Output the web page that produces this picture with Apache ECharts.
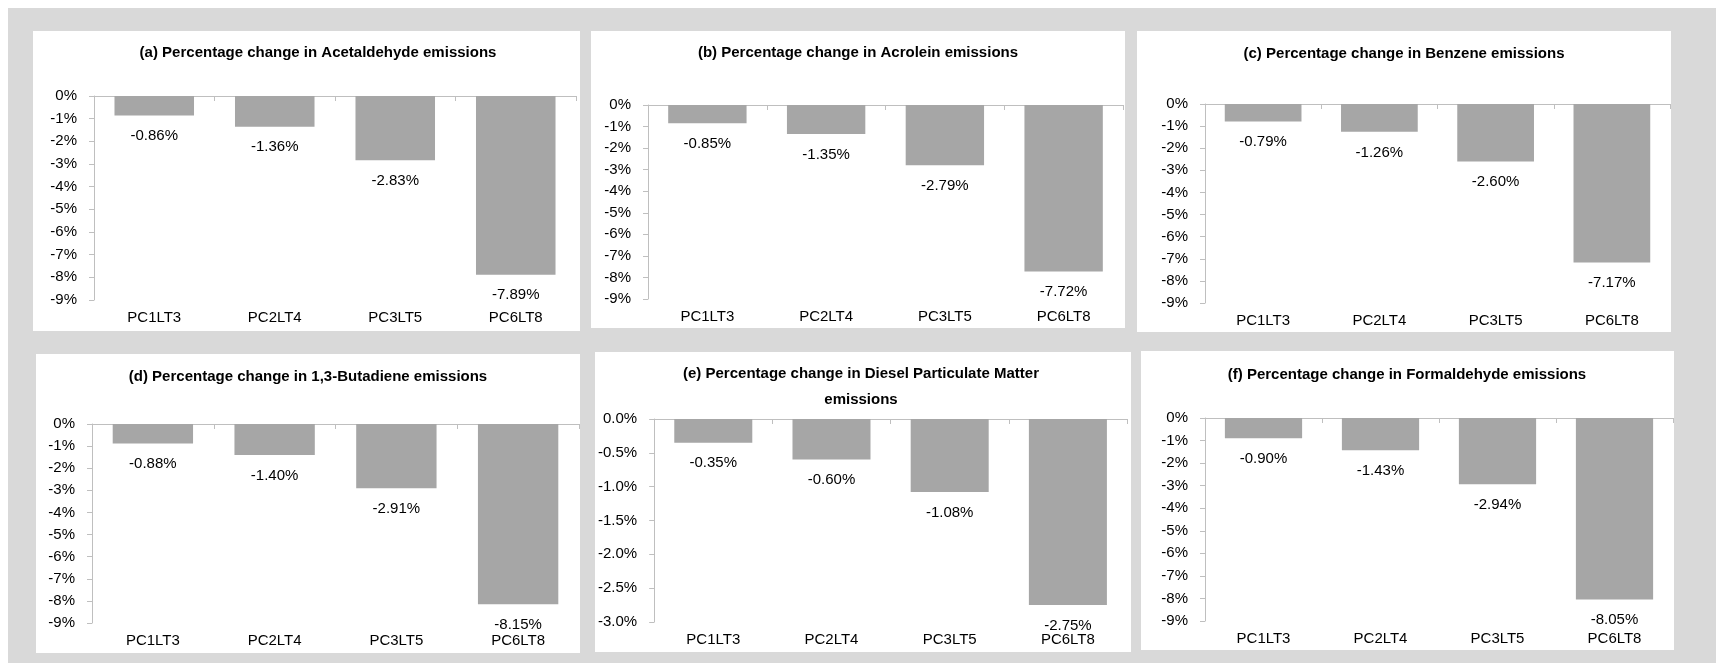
<!DOCTYPE html>
<html>
<head>
<meta charset="utf-8">
<script src="https://cdn.jsdelivr.net/npm/echarts@6/dist/echarts.min.js"></script>
<style>
  html, body { margin:0; padding:0; background:#ffffff; width:1716px; height:663px; overflow:hidden; }
  #bg { position:absolute; left:8px; top:8px; right:0; bottom:0; background:#d9d9d9; }
  .panel { position:absolute; background:#ffffff; }
</style>
</head>
<body>
<div id="bg"></div>
<script>
// ---- data ----
const categories = ['PC1LT3', 'PC2LT4', 'PC3LT5', 'PC6LT8'];
const acetaldehyde = [-0.86, -1.36, -2.83, -7.89];
const acrolein     = [-0.85, -1.35, -2.79, -7.72];
const benzene      = [-0.79, -1.26, -2.60, -7.17];
const butadiene    = [-0.88, -1.40, -2.91, -8.15];
const dieselPM     = [-0.35, -0.60, -1.08, -2.75];
const formaldehyde = [-0.90, -1.43, -2.94, -8.05];
const titles = [
  '(a) Percentage change in Acetaldehyde emissions',
  '(b) Percentage change in Acrolein emissions',
  '(c) Percentage change in Benzene emissions',
  '(d) Percentage change in 1,3-Butadiene emissions',
  '(e) Percentage change in Diesel Particulate Matter\nemissions',
  '(f) Percentage change in Formaldehyde emissions'
];
const seriesList = [acetaldehyde, acrolein, benzene, butadiene, dieselPM, formaldehyde];
const axisMins = [-9, -9, -9, -9, -3, -9];
const axisSteps = [1, 1, 1, 1, 0.5, 1];
const axisDecimals = [0, 0, 0, 0, 1, 0];

// ---- layout ----
const layout = [
  { x: 33,   y: 31,  w: 547, h: 300, grid: { left: 61, right: 4, top: 65, bottom: 31 }, titleTop: 11, titleX: 285, lh: 22 },
  { x: 591,  y: 31,  w: 534, h: 297, grid: { left: 57, right: 2, top: 74, bottom: 29 }, titleTop: 11, titleX: 267, lh: 22 },
  { x: 1137, y: 31,  w: 534, h: 301, grid: { left: 68, right: 1, top: 73, bottom: 29 }, titleTop: 12, titleX: 267, lh: 22 },
  { x: 36,   y: 354, w: 544, h: 299, grid: { left: 56, right: 1, top: 70, bottom: 30 }, titleTop: 12, titleX: 272, lh: 22 },
  { x: 595,  y: 352, w: 536, h: 300, grid: { left: 59, right: 4, top: 67, bottom: 30 }, titleTop: 9,  titleX: 266, lh: 26 },
  { x: 1141, y: 351, w: 533, h: 299, grid: { left: 64, right: 1, top: 67, bottom: 29 }, titleTop: 13, titleX: 266, lh: 22 }
];

const FONT = "'Liberation Sans', Arial, sans-serif";
const AXIS_COLOR = '#bfbfbf';
const BAR_COLOR = '#a6a6a6';

layout.forEach((L, i) => {
  const div = document.createElement('div');
  div.className = 'panel';
  div.style.left = L.x + 'px';
  div.style.top = L.y + 'px';
  div.style.width = L.w + 'px';
  div.style.height = L.h + 'px';
  document.body.appendChild(div);
  const chart = echarts.init(div, null, { renderer: 'canvas' });
  const dec = axisDecimals[i];
  chart.setOption({
    animation: false,
    textStyle: { fontFamily: FONT },
    title: {
      text: titles[i],
      left: L.titleX,
      top: L.titleTop,
      padding: 0,
      textAlign: 'center',
      textStyle: { fontFamily: FONT, fontSize: 15, fontWeight: 'bold', color: '#000', lineHeight: L.lh }
    },
    grid: L.grid,
    xAxis: [
      {
        type: 'category', data: categories, position: 'bottom',
        axisLine: { show: true, onZero: true, lineStyle: { color: AXIS_COLOR, width: 1 } },
        axisTick: { show: true, length: 5, lineStyle: { color: AXIS_COLOR } },
        axisLabel: { show: false }
      },
      {
        type: 'category', data: categories, position: 'bottom',
        axisLine: { show: false, onZero: false },
        axisTick: { show: false },
        axisLabel: { show: true, color: '#000', fontSize: 15, fontFamily: FONT, margin: 10 }
      }
    ],
    yAxis: {
      type: 'value', min: axisMins[i], max: 0, interval: axisSteps[i],
      axisLine: { show: true, lineStyle: { color: AXIS_COLOR, width: 1 } },
      axisTick: { show: true, length: 5, lineStyle: { color: AXIS_COLOR } },
      splitLine: { show: false },
      axisLabel: {
        color: '#000', fontSize: 15, fontFamily: FONT, margin: 17,
        formatter: v => (Math.abs(v) < 1e-9 ? 0 : v).toFixed(dec) + '%'
      }
    },
    series: [{
      type: 'bar',
      xAxisIndex: 0,
      data: seriesList[i],
      barWidth: '66%',
      itemStyle: { color: BAR_COLOR },
      label: {
        show: true, position: 'bottom', distance: 13,
        color: '#000', fontSize: 15, fontFamily: FONT,
        formatter: p => p.value.toFixed(2) + '%'
      }
    }]
  });
});
</script>
</body>
</html>
